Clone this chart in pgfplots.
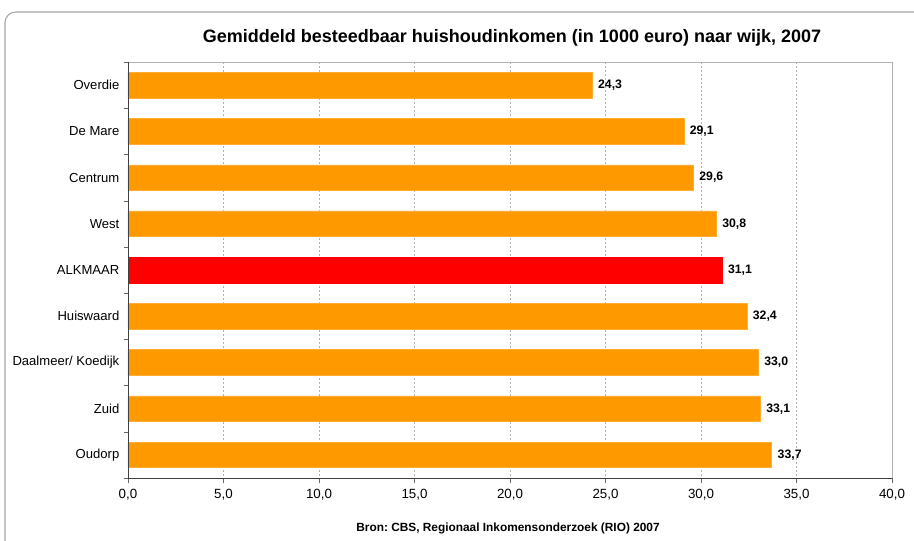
\documentclass[border=0pt]{standalone}
\usepackage{pgfplots}
\pgfplotsset{compat=1.18}
\usepackage{fontspec}
\setmainfont{Liberation Sans}
\frenchspacing
\definecolor{barorange}{HTML}{FF9900}
\definecolor{barred}{HTML}{FF0000}
\begin{document}
\begin{tikzpicture}
\pgfkeys{/pgf/number format/.cd, fixed, fixed zerofill, precision=1, use comma, assume math mode=true}
\path[use as bounding box] (0,0) rectangle (685.5pt,-405pt);
\draw[gray!70, line width=0.8pt, rounded corners=8pt] (3.75pt,-9pt) rectangle (700pt,-420pt);
\node[font=\bfseries\fontsize{13.5}{15}\selectfont] at (384pt,-28.5pt) {Gemiddeld besteedbaar huishoudinkomen (in 1000 euro) naar wijk, 2007};
\node[font=\bfseries\fontsize{8.9}{10}\selectfont] at (381pt,-396pt) {Bron: CBS, Regionaal Inkomensonderzoek (RIO) 2007};
\begin{axis}[
  at={(96pt,-358.5pt)}, anchor=south west,
  scale only axis, width=573pt, height=312pt,
  xbar, bar width=19.2pt, bar shift=0pt,
  xmin=0, xmax=40, xtick={0,5,...,40},
  ymin=-0.5, ymax=8.5, y dir=reverse,
  ytick={0,...,8},
  yticklabels={Overdie,De Mare,Centrum,West,ALKMAAR,Huiswaard,Daalmeer/ Koedijk,Zuid,Oudorp},
  minor ytick={-0.5,0.5,...,8.5},
  major tick length=0pt,
  minor tick length=3pt,
  xtick pos=bottom, ytick pos=left, tick align=outside,
  xmajorgrids, major grid style={gray!60, dash pattern=on 1.5pt off 1.5pt},
  axis line style={gray!60},
  tick style={gray!80!black},
  xticklabel style={font=\fontsize{10}{12}\selectfont, yshift=-5pt},
  yticklabel style={font=\fontsize{9.8}{12}\selectfont, xshift=-3pt},
  extra x ticks={0,5,...,40}, extra x tick labels={},
  extra x tick style={major tick length=4pt, grid=none},
  nodes near coords,
  nodes near coords align=horizontal,
  every node near coord/.append style={anchor=west, font=\bfseries\fontsize{9.2}{10}\selectfont, xshift=1pt},
]
\addplot[fill=barorange, draw=barorange!80!white] coordinates {
(24.3,0) (29.1,1) (29.6,2) (30.8,3) (32.4,5) (33.0,6) (33.1,7) (33.7,8)};
\addplot[fill=barred, draw=barred] coordinates {(31.1,4)};
\draw[black!75] (axis description cs:0,0) -- (axis description cs:0,1);
\draw[black!75] (axis description cs:0,0) -- (axis description cs:1,0);
\end{axis}
\end{tikzpicture}
\end{document}
